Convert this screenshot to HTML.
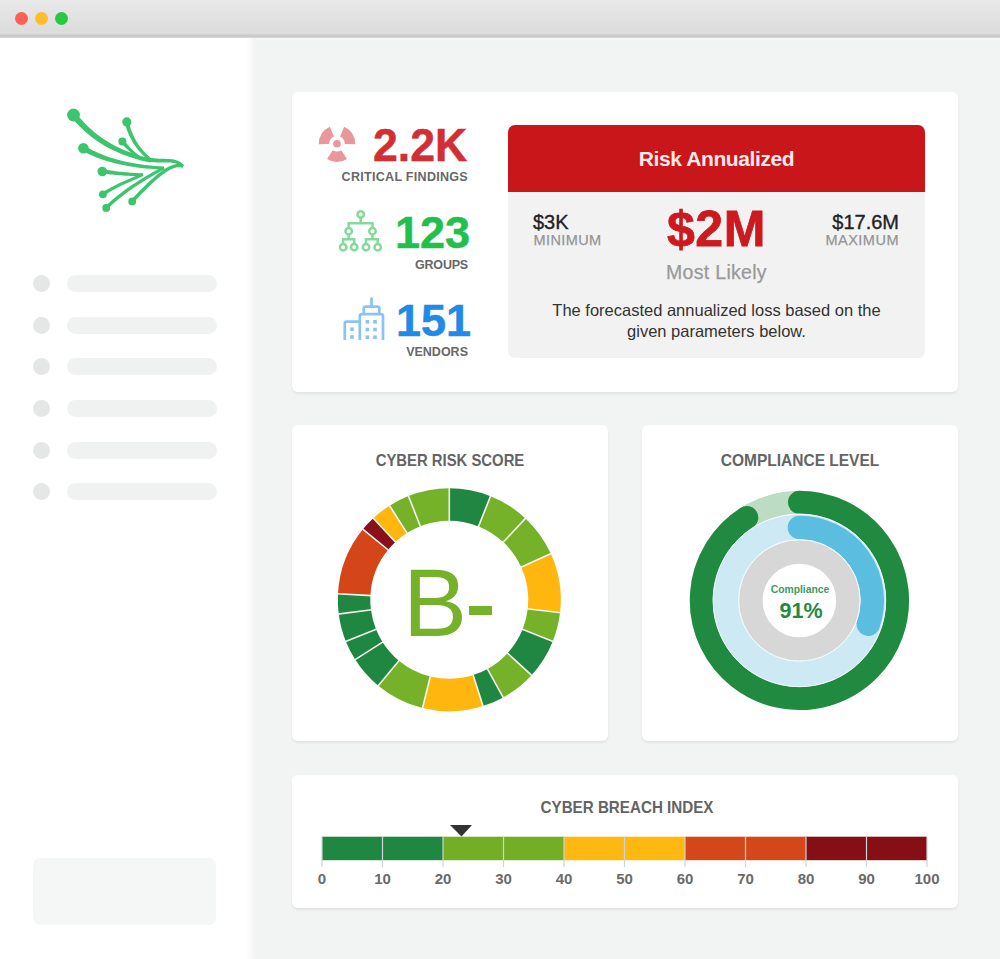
<!DOCTYPE html>
<html><head><meta charset="utf-8">
<style>
*{margin:0;padding:0;box-sizing:border-box}
html,body{width:1000px;height:959px;overflow:hidden;background:#f2f4f3;font-family:"Liberation Sans",sans-serif}
.abs{position:absolute}
.t{position:absolute;line-height:1;white-space:nowrap}
#titlebar{left:0;top:0;width:1000px;height:38px;background:linear-gradient(#e9e9e9 0px,#dcdcdc 31px,#e0e0e0 33px,#cbcbcb 35.5px,#c9c9c9 37px,#e2e2e2 38px)}
.dot{position:absolute;width:13px;height:13px;border-radius:50%;top:12px}
#sidebar{left:0;top:38px;width:256px;height:921px;background:linear-gradient(to right,#fff 246px,#f2f4f3 256px)}
.sd{position:absolute;left:33px;width:17px;height:17px;border-radius:50%;background:#e5e6e6}
.sb{position:absolute;left:67px;width:150px;height:17px;border-radius:9px;background:#f0f1f1}
.card{position:absolute;background:#fff;border-radius:6px;box-shadow:0 2px 2.5px rgba(0,0,0,0.065)}
.lbl{color:#676767;font-weight:700}
</style></head>
<body>
<div id="titlebar" class="abs">
  <div class="dot" style="left:15px;background:#fe5f57"></div>
  <div class="dot" style="left:35px;background:#febc2e"></div>
  <div class="dot" style="left:55px;background:#28c840"></div>
</div>
<div class="abs" style="left:250px;top:38px;width:750px;height:2px;background:#f6f7f6"></div>
<div id="sidebar" class="abs">

  <div class="sd" style="top:237px"></div><div class="sb" style="top:237px"></div>
  <div class="sd" style="top:279px"></div><div class="sb" style="top:279px"></div>
  <div class="sd" style="top:320px"></div><div class="sb" style="top:320px"></div>
  <div class="sd" style="top:362px"></div><div class="sb" style="top:362px"></div>
  <div class="sd" style="top:404px"></div><div class="sb" style="top:404px"></div>
  <div class="sd" style="top:445px"></div><div class="sb" style="top:445px"></div>
  <div class="abs" style="left:33px;top:820px;width:183px;height:67px;border-radius:7px;background:#f5f6f6"></div>
</div>

<!-- logo -->
<svg class="abs" style="left:60px;top:100px" width="135" height="120" viewBox="60 100 135 120"><g fill="#3cc46e">
<path d="M71.03,117.03 L72.94,119.28 L74.96,121.56 L77.06,123.84 L79.27,126.11 L81.57,128.37 L83.98,130.62 L86.50,132.85 L89.13,135.06 L91.88,137.23 L94.76,139.36 L97.76,141.45 L100.90,143.49 L104.17,145.49 L107.59,147.42 L111.15,149.29 L114.87,151.09 L118.74,152.82 L122.77,154.47 L126.97,156.04 L131.33,157.52 L135.87,158.90 L140.60,160.19 L145.50,161.38 L150.57,162.45 L151.43,158.55 L146.45,157.39 L141.68,156.13 L137.11,154.78 L132.73,153.34 L128.52,151.81 L124.49,150.20 L120.64,148.52 L116.95,146.76 L113.41,144.94 L110.04,143.06 L106.81,141.12 L103.73,139.13 L100.78,137.09 L97.97,135.02 L95.28,132.90 L92.72,130.76 L90.28,128.59 L87.94,126.39 L85.72,124.18 L83.59,121.95 L81.56,119.71 L79.62,117.47 L77.77,115.23 L75.97,112.97Z"/>
<path d="M149.74,161.78 L151.62,162.01 L153.49,162.18 L155.31,162.30 L157.07,162.38 L158.79,162.43 L160.46,162.45 L162.08,162.46 L163.64,162.46 L165.16,162.46 L166.62,162.46 L168.03,162.49 L169.39,162.53 L170.70,162.61 L171.95,162.73 L173.14,162.89 L174.29,163.10 L175.38,163.36 L176.42,163.70 L177.42,164.10 L178.37,164.57 L179.28,165.14 L180.16,165.80 L181.02,166.56 L181.88,167.50 L184.12,165.50 L183.19,164.44 L182.17,163.45 L181.09,162.59 L179.96,161.84 L178.79,161.20 L177.58,160.66 L176.33,160.21 L175.05,159.85 L173.73,159.56 L172.39,159.34 L171.01,159.17 L169.61,159.04 L168.18,158.95 L166.71,158.88 L165.22,158.83 L163.69,158.79 L162.13,158.75 L160.54,158.71 L158.92,158.64 L157.26,158.56 L155.57,158.44 L153.84,158.28 L152.09,158.08 L150.26,157.82Z"/>
<path d="M183.61,165.02 L182.35,164.49 L180.90,164.11 L179.38,163.92 L177.80,163.92 L176.16,164.10 L174.47,164.47 L172.72,165.00 L170.90,165.71 L169.02,166.58 L167.07,167.62 L165.04,168.83 L162.94,170.21 L160.75,171.76 L158.49,173.47 L156.14,175.36 L153.70,177.42 L151.17,179.65 L148.56,182.06 L145.85,184.64 L143.05,187.39 L140.15,190.33 L137.15,193.43 L134.06,196.72 L130.87,200.18 L133.53,202.62 L136.69,199.16 L139.74,195.89 L142.69,192.80 L145.55,189.89 L148.30,187.16 L150.96,184.61 L153.51,182.23 L155.97,180.04 L158.34,178.02 L160.61,176.18 L162.78,174.51 L164.86,173.01 L166.85,171.69 L168.74,170.55 L170.53,169.57 L172.22,168.77 L173.82,168.13 L175.32,167.66 L176.71,167.34 L178.01,167.18 L179.20,167.17 L180.31,167.29 L181.33,167.54 L182.39,167.98Z"/>
<path d="M82.05,150.54 L84.23,151.73 L86.51,152.92 L88.89,154.08 L91.36,155.23 L93.93,156.34 L96.59,157.43 L99.36,158.49 L102.22,159.52 L105.19,160.51 L108.27,161.46 L111.46,162.37 L114.76,163.24 L118.17,164.07 L121.70,164.84 L125.35,165.57 L129.12,166.25 L133.01,166.87 L137.03,167.43 L141.18,167.94 L145.46,168.38 L149.87,168.76 L154.42,169.08 L159.11,169.32 L163.93,169.50 L164.07,166.50 L159.28,166.23 L154.65,165.89 L150.17,165.48 L145.82,165.00 L141.61,164.47 L137.54,163.87 L133.61,163.22 L129.80,162.51 L126.12,161.75 L122.57,160.94 L119.15,160.08 L115.84,159.18 L112.66,158.24 L109.59,157.26 L106.64,156.24 L103.79,155.19 L101.06,154.11 L98.43,153.00 L95.91,151.86 L93.49,150.70 L91.17,149.52 L88.94,148.32 L86.81,147.10 L84.75,145.86Z"/>
<path d="M163.29,166.48 L160.88,167.77 L158.44,169.09 L155.96,170.46 L153.45,171.86 L150.92,173.30 L148.37,174.78 L145.81,176.29 L143.24,177.83 L140.67,179.41 L138.10,181.02 L135.54,182.67 L132.98,184.34 L130.44,186.05 L127.93,187.78 L125.43,189.55 L122.97,191.34 L120.54,193.16 L118.15,195.01 L115.81,196.88 L113.51,198.78 L111.27,200.71 L109.09,202.66 L106.97,204.63 L104.94,206.62 L107.46,209.18 L109.45,207.21 L111.50,205.27 L113.61,203.35 L115.78,201.45 L118.01,199.57 L120.30,197.71 L122.63,195.88 L125.00,194.07 L127.41,192.28 L129.85,190.52 L132.33,188.79 L134.82,187.08 L137.33,185.41 L139.85,183.76 L142.38,182.14 L144.92,180.56 L147.45,179.01 L149.98,177.49 L152.49,176.00 L154.99,174.55 L157.46,173.14 L159.91,171.76 L162.33,170.42 L164.71,169.12Z"/>
<path d="M102.05,173.59 L103.67,173.75 L105.32,173.91 L107.01,174.08 L108.74,174.25 L110.49,174.42 L112.26,174.59 L114.05,174.75 L115.86,174.92 L117.67,175.07 L119.49,175.23 L121.32,175.37 L123.13,175.51 L124.94,175.63 L126.74,175.75 L128.52,175.85 L130.28,175.94 L132.01,176.01 L133.71,176.07 L135.38,176.11 L137.01,176.13 L138.60,176.13 L140.13,176.11 L141.62,176.07 L143.04,176.00 L142.96,173.20 L141.57,173.21 L140.13,173.19 L138.63,173.16 L137.09,173.10 L135.49,173.02 L133.86,172.92 L132.19,172.81 L130.48,172.68 L128.75,172.53 L127.00,172.37 L125.23,172.20 L123.44,172.02 L121.65,171.83 L119.84,171.63 L118.04,171.42 L116.25,171.20 L114.46,170.98 L112.68,170.76 L110.92,170.53 L109.19,170.31 L107.48,170.08 L105.80,169.86 L104.15,169.63 L102.55,169.41Z"/>
<path d="M142.46,173.31 L140.82,173.97 L139.17,174.65 L137.49,175.33 L135.80,176.02 L134.09,176.72 L132.38,177.43 L130.65,178.15 L128.92,178.89 L127.18,179.63 L125.44,180.39 L123.70,181.17 L121.96,181.96 L120.22,182.76 L118.49,183.58 L116.77,184.42 L115.05,185.28 L113.35,186.16 L111.66,187.05 L109.99,187.97 L108.33,188.91 L106.70,189.87 L105.09,190.86 L103.50,191.86 L101.95,192.89 L103.85,195.71 L105.35,194.68 L106.88,193.69 L108.43,192.71 L110.00,191.76 L111.60,190.82 L113.22,189.90 L114.86,189.01 L116.52,188.13 L118.19,187.26 L119.87,186.41 L121.57,185.58 L123.27,184.77 L124.98,183.97 L126.69,183.18 L128.40,182.40 L130.11,181.64 L131.82,180.89 L133.53,180.15 L135.23,179.42 L136.91,178.70 L138.59,177.98 L140.26,177.28 L141.91,176.58 L143.54,175.89Z"/>
<path d="M124.75,122.36 L125.21,124.26 L125.72,126.17 L126.29,128.05 L126.91,129.91 L127.58,131.75 L128.31,133.56 L129.09,135.35 L129.93,137.12 L130.82,138.86 L131.77,140.59 L132.77,142.28 L133.83,143.95 L134.95,145.60 L136.12,147.23 L137.35,148.83 L138.64,150.41 L139.99,151.96 L141.39,153.49 L142.86,155.00 L144.38,156.48 L145.96,157.94 L147.61,159.38 L149.31,160.79 L151.06,162.17 L152.94,159.83 L151.25,158.44 L149.64,157.04 L148.09,155.62 L146.61,154.18 L145.18,152.73 L143.82,151.25 L142.51,149.76 L141.27,148.25 L140.08,146.72 L138.95,145.17 L137.88,143.61 L136.87,142.02 L135.91,140.42 L135.00,138.79 L134.16,137.15 L133.36,135.49 L132.62,133.80 L131.93,132.10 L131.29,130.38 L130.70,128.64 L130.17,126.88 L129.68,125.09 L129.24,123.29 L128.85,121.44Z"/>
<path d="M120.97,142.86 L121.70,143.64 L122.43,144.43 L123.16,145.22 L123.91,146.00 L124.66,146.77 L125.41,147.55 L126.18,148.32 L126.96,149.08 L127.75,149.84 L128.54,150.60 L129.35,151.35 L130.17,152.09 L131.01,152.84 L131.86,153.57 L132.72,154.30 L133.59,155.03 L134.48,155.75 L135.39,156.47 L136.31,157.18 L137.26,157.89 L138.22,158.59 L139.19,159.28 L140.19,159.97 L141.20,160.65 L142.80,158.35 L141.83,157.65 L140.89,156.95 L139.97,156.24 L139.06,155.53 L138.18,154.82 L137.31,154.10 L136.46,153.37 L135.62,152.64 L134.80,151.91 L134.00,151.17 L133.20,150.43 L132.43,149.68 L131.66,148.93 L130.90,148.17 L130.16,147.41 L129.43,146.65 L128.70,145.87 L127.99,145.10 L127.28,144.32 L126.58,143.53 L125.88,142.75 L125.19,141.95 L124.51,141.15 L123.83,140.34Z"/>
<circle cx="73.5" cy="115" r="6.4"/>
<circle cx="83.4" cy="148.2" r="5.3"/>
<circle cx="126.8" cy="121.9" r="4.6"/>
<circle cx="122.4" cy="141.6" r="4.0"/>
<circle cx="102.3" cy="171.5" r="4.8"/>
<circle cx="102.9" cy="194.3" r="3.9"/>
<circle cx="106.2" cy="207.9" r="3.9"/>
<circle cx="132.2" cy="201.4" r="3.9"/>
</g></svg>
<!-- TOP CARD -->
<div class="card" style="left:292px;top:92px;width:666px;height:300px"></div>
<!-- radiation icon -->
<svg class="abs" style="left:312px;top:120px" width="50" height="50" viewBox="312 120 50 50">
  <g fill="#e9979b">
    <circle cx="337" cy="143.7" r="3.8"/>
    <path d="M318.71,144.34 A18.3,18.3 0 0 1 329.85,126.85 L333.95,136.52 A7.8,7.8 0 0 0 329.2,143.97 Z M344.15,126.85 A18.3,18.3 0 0 1 355.29,144.34 L344.8,143.97 A7.8,7.8 0 0 0 340.05,136.52 Z M346.97,159.05 A18.3,18.3 0 0 1 327.03,159.05 L332.75,150.24 A7.8,7.8 0 0 0 341.25,150.24 Z"/>
  </g>
</svg>
<div class="t" style="right:533px;top:120.5px;font-size:47px;font-weight:700;color:#d12f34;-webkit-text-stroke:0.5px #d12f34;transform:scaleX(0.95);transform-origin:right">2.2K</div>
<div class="t lbl" style="right:532px;top:171.1px;font-size:12.5px;letter-spacing:0.3px">CRITICAL FINDINGS</div>
<!-- groups icon -->
<svg class="abs" style="left:337px;top:208px" width="48" height="46" viewBox="337 208 48 46" fill="none" stroke="#84d99c" stroke-width="2.5">
  <circle cx="360.7" cy="214.4" r="3.2"/>
  <path d="M360.7,217.6 V223.2 M347.5,223.2 H373.7 M348.7,222 V228 M372.5,222 V228"/>
  <circle cx="348.7" cy="231.2" r="3.2"/>
  <circle cx="372.5" cy="231.2" r="3.2"/>
  <path d="M348.7,234.4 V239.3 M342,239.3 H355.4 M364.8,239.3 H378.9 M372.5,234.4 V239.3 M343.2,238 V244 M354.2,238 V244 M366,238 V244 M377.7,238 V244"/>
  <circle cx="343.2" cy="247.2" r="3.2"/>
  <circle cx="354.2" cy="247.2" r="3.2"/>
  <circle cx="366" cy="247.2" r="3.2"/>
  <circle cx="377.7" cy="247.2" r="3.2"/>
</svg>
<div class="t" style="right:530px;top:210.2px;font-size:45px;font-weight:700;color:#22bf4e;-webkit-text-stroke:0.5px #22bf4e">123</div>
<div class="t lbl" style="right:532px;top:258.6px;font-size:12.5px;letter-spacing:-0.2px">GROUPS</div>
<!-- building icon -->
<svg class="abs" style="left:340px;top:295px" width="48" height="46" viewBox="340 295 48 46" fill="none" stroke="#8cc2f5" stroke-width="2.7">
  <path d="M344.8,340 V323.5 Q344.8,321.6 346.7,321.6 H359.8"/>
  <path d="M359.8,340 V316.3 Q359.8,314.2 362,314.2 H380.8 Q383,314.2 383,316.3 V340"/>
  <path d="M363.8,314.2 V308.4 Q363.8,306.7 365.5,306.7 H377.6 Q379.3,306.7 379.3,308.4 V314.2"/>
  <path d="M371.5,297.5 V306.7"/>
  <g fill="#8cc2f5" stroke="none">
    <rect x="350.2" y="327.4" width="3.6" height="3.6"/>
    <rect x="350.2" y="335.2" width="3.6" height="3.6"/>
    <rect x="365.6" y="320" width="3.6" height="3.6"/>
    <rect x="373.2" y="320" width="3.6" height="3.6"/>
    <rect x="365.6" y="327.7" width="3.6" height="3.6"/>
    <rect x="373.2" y="327.7" width="3.6" height="3.6"/>
    <rect x="365.6" y="335.4" width="3.6" height="3.6"/>
    <rect x="373.2" y="335.4" width="3.6" height="3.6"/>
  </g>
</svg>
<div class="t" style="right:529px;top:297.6px;font-size:45px;font-weight:700;color:#2189e6;-webkit-text-stroke:0.5px #2189e6">151</div>
<div class="t lbl" style="right:532px;top:346.3px;font-size:12.5px;letter-spacing:0px">VENDORS</div>

<!-- risk annualized panel -->
<div class="abs" style="left:508px;top:125px;width:417px;height:67px;background:#c9161b;border-radius:7px 7px 0 0"></div>
<div class="abs" style="left:508px;top:191.5px;width:417px;height:166.5px;background:#f2f2f2;border-radius:0 0 7px 7px"></div>
<div class="t" style="left:508px;width:417px;text-align:center;top:148px;font-size:21px;font-weight:700;letter-spacing:-0.4px;color:#fde9e9">Risk Annualized</div>
<div class="t" style="left:533px;top:211.9px;font-size:20px;color:#222;-webkit-text-stroke:0.35px #222">$3K</div>
<div class="t" style="left:533.5px;top:232.6px;font-size:14.5px;letter-spacing:0.4px;color:#959595;-webkit-text-stroke:0.25px #959595">MINIMUM</div>
<div class="t" style="left:508px;width:417px;text-align:center;top:204.2px;font-size:50px;font-weight:700;letter-spacing:0.6px;color:#cc1a1f;-webkit-text-stroke:0.8px #cc1a1f">$2M</div>
<div class="t" style="left:508px;width:417px;text-align:center;top:263px;font-size:19.5px;letter-spacing:0.3px;color:#999;-webkit-text-stroke:0.25px #999">Most Likely</div>
<div class="t" style="right:101px;top:211.7px;font-size:20px;color:#222;-webkit-text-stroke:0.35px #222">$17.6M</div>
<div class="t" style="right:101px;top:232.6px;font-size:14.5px;letter-spacing:0.5px;color:#959595;-webkit-text-stroke:0.25px #959595">MAXIMUM</div>
<div class="abs" style="left:508px;width:417px;text-align:center;top:299.5px;font-size:16.5px;line-height:21px;color:#333">The forecasted annualized loss based on the<br>given parameters below.</div>

<!-- CYBER RISK CARD -->
<div class="card" style="left:292px;top:425px;width:316px;height:316px"></div>
<div class="t lbl" style="left:292px;width:316px;text-align:center;top:452.3px;font-size:16.5px;color:#646464;transform:scaleX(0.9)">CYBER RISK SCORE</div>
<svg class="abs" style="left:292px;top:425px" width="316" height="316" viewBox="292 425 316 316">
<path fill="#1f8742" d="M449.3,488.3 A111.5,111.5 0 0 1 490.53,496.2 L478.51,526.4 A79,79 0 0 0 449.3,520.8 Z"/>
<path fill="#76b12a" d="M490.53,496.2 A111.5,111.5 0 0 1 525.49,518.39 L503.28,542.12 A79,79 0 0 0 478.51,526.4 Z"/>
<path fill="#76b12a" d="M525.49,518.39 A111.5,111.5 0 0 1 550.76,553.56 L521.19,567.04 A79,79 0 0 0 503.28,542.12 Z"/>
<path fill="#ffb60f" d="M550.76,553.56 A111.5,111.5 0 0 1 560.06,612.62 L527.78,608.88 A79,79 0 0 0 521.19,567.04 Z"/>
<path fill="#76b12a" d="M560.06,612.62 A111.5,111.5 0 0 1 552.75,641.39 L522.6,629.27 A79,79 0 0 0 527.78,608.88 Z"/>
<path fill="#1f8742" d="M552.75,641.39 A111.5,111.5 0 0 1 531.51,675.13 L507.54,653.17 A79,79 0 0 0 522.6,629.27 Z"/>
<path fill="#76b12a" d="M531.51,675.13 A111.5,111.5 0 0 1 503.19,697.41 L487.48,668.96 A79,79 0 0 0 507.54,653.17 Z"/>
<path fill="#1f8742" d="M503.19,697.41 A111.5,111.5 0 0 1 483.01,706.08 L473.19,675.1 A79,79 0 0 0 487.48,668.96 Z"/>
<path fill="#ffb60f" d="M483.01,706.08 A111.5,111.5 0 0 1 422.51,708.03 L430.32,676.49 A79,79 0 0 0 473.19,675.1 Z"/>
<path fill="#76b12a" d="M422.51,708.03 A111.5,111.5 0 0 1 378.23,685.71 L398.94,660.67 A79,79 0 0 0 430.32,676.49 Z"/>
<path fill="#1f8742" d="M378.23,685.71 A111.5,111.5 0 0 1 355.16,659.54 L382.6,642.13 A79,79 0 0 0 398.94,660.67 Z"/>
<path fill="#1f8742" d="M355.16,659.54 A111.5,111.5 0 0 1 345.85,641.39 L376.0,629.27 A79,79 0 0 0 382.6,642.13 Z"/>
<path fill="#1f8742" d="M345.85,641.39 A111.5,111.5 0 0 1 338.7,613.97 L370.94,609.84 A79,79 0 0 0 376.0,629.27 Z"/>
<path fill="#1f8742" d="M338.7,613.97 A111.5,111.5 0 0 1 337.96,593.77 L370.42,595.53 A79,79 0 0 0 370.94,609.84 Z"/>
<path fill="#d4461a" d="M337.96,593.77 A111.5,111.5 0 0 1 362.89,529.33 L388.08,549.87 A79,79 0 0 0 370.42,595.53 Z"/>
<path fill="#87101a" d="M362.89,529.33 A111.5,111.5 0 0 1 373.26,518.25 L395.42,542.02 A79,79 0 0 0 388.08,549.87 Z"/>
<path fill="#ffb60f" d="M373.26,518.25 A111.5,111.5 0 0 1 389.56,505.66 L406.97,533.1 A79,79 0 0 0 395.42,542.02 Z"/>
<path fill="#76b12a" d="M389.56,505.66 A111.5,111.5 0 0 1 408.44,496.06 L420.35,526.3 A79,79 0 0 0 406.97,533.1 Z"/>
<path fill="#76b12a" d="M408.44,496.06 A111.5,111.5 0 0 1 449.3,488.3 L449.3,520.8 A79,79 0 0 0 420.35,526.3 Z"/>
<path stroke="#f3f7ec" stroke-width="1.6" d="M449.3,521.8 L449.3,487.3 M478.14,527.33 L490.9,495.27 M502.6,542.85 L526.17,517.66 M520.28,567.45 L551.67,553.15 M526.78,608.77 L561.05,612.73 M521.67,628.89 L553.68,641.76 M506.81,652.5 L532.24,675.8 M487.0,668.09 L503.67,698.29 M472.88,674.15 L483.32,707.03 M430.56,675.52 L422.27,709.01 M399.58,659.9 L377.59,686.48 M383.44,641.59 L354.31,660.08 M376.93,628.89 L344.92,641.76 M371.93,609.71 L337.71,614.09 M371.41,595.58 L336.96,593.72 M388.85,550.5 L362.12,528.7 M396.1,542.75 L372.58,517.52 M407.51,533.94 L389.02,504.81 M420.71,527.23 L408.07,495.13"/>

</svg>
<div class="t" style="left:403px;top:555.2px;font-size:96px;color:#76b12a">B</div>
<div class="abs" style="left:469px;top:606px;width:23px;height:8.8px;background:#76b12a"></div>
<!-- COMPLIANCE CARD -->
<div class="card" style="left:642px;top:425px;width:316px;height:316px"></div>
<div class="t lbl" style="left:642px;width:316px;text-align:center;top:452.3px;font-size:16.5px;color:#646464;transform:scaleX(0.94)">COMPLIANCE LEVEL</div>
<svg class="abs" style="left:642px;top:425px" width="316" height="316" viewBox="642 425 316 316" fill="none">
  <circle cx="799.4" cy="600.4" r="98.1" stroke="#bddcc4" stroke-width="23"/>
  <path d="M799.4,502.3 A98.1,98.1 0 1 1 746.84,517.57" stroke="#1f8a40" stroke-width="23" stroke-linecap="round"/>
  <circle cx="799.4" cy="600.4" r="73.5" stroke="#cde9f3" stroke-width="25"/>
  <path d="M799.4,527.5 A72.9,72.9 0 0 1 868.33,624.13" stroke="#5bbde0" stroke-width="23.5" stroke-linecap="round"/>
  <circle cx="799.4" cy="600.4" r="48.5" stroke="#d7d7d7" stroke-width="23.5"/>
  <circle cx="799.4" cy="600.4" r="86.3" stroke="#eef8fb" stroke-width="1"/>
  <circle cx="799.4" cy="600.4" r="60.8" stroke="#eef8fb" stroke-width="1"/>
</svg>
<div class="t" style="left:642px;width:316px;text-align:center;top:584px;font-size:11.5px;font-weight:700;color:#3f9a63;transform:scaleX(0.9)">Compliance</div>
<div class="t" style="left:642px;width:316px;text-align:center;top:600.5px;font-size:21.5px;font-weight:700;color:#1f8a40;text-indent:2px">91%</div>
<!-- BREACH CARD -->
<div class="card" style="left:292px;top:775px;width:666px;height:133px"></div>
<div class="t lbl" style="left:294px;width:666px;text-align:center;top:799px;font-size:16.5px;color:#646464;transform:scaleX(0.92)">CYBER BREACH INDEX</div>
<svg class="abs" style="left:292px;top:775px" width="666" height="133" viewBox="292 775 666 133">
  <rect x="322" y="836.7" width="121" height="23.5" fill="#1f8742"/>
  <rect x="443" y="836.7" width="121" height="23.5" fill="#74ae25"/>
  <rect x="564" y="836.7" width="121" height="23.5" fill="#ffb80f"/>
  <rect x="685" y="836.7" width="121" height="23.5" fill="#d4471a"/>
  <rect x="806" y="836.7" width="121" height="23.5" fill="#860f16"/>
  <g stroke="#cfd2d8" stroke-width="1.2">
  <path d="M322.0,836.7 V867"/>
  <path d="M382.5,836.7 V867"/>
  <path d="M443.0,836.7 V867"/>
  <path d="M503.5,836.7 V867"/>
  <path d="M564.0,836.7 V867"/>
  <path d="M624.5,836.7 V867"/>
  <path d="M685.0,836.7 V867"/>
  <path d="M745.5,836.7 V867"/>
  <path d="M806.0,836.7 V867"/>
  <path d="M866.5,836.7 V867"/>
  <path d="M927.0,836.7 V867"/>
  </g>
  <path d="M450,825 H472 L461.5,836.5 Z" fill="#333"/>
</svg>
<div class="t lbl" style="left:292.0px;width:60px;text-align:center;top:870.8px;font-size:15px;color:#6a6a6a">0</div>
<div class="t lbl" style="left:352.5px;width:60px;text-align:center;top:870.8px;font-size:15px;color:#6a6a6a">10</div>
<div class="t lbl" style="left:413.0px;width:60px;text-align:center;top:870.8px;font-size:15px;color:#6a6a6a">20</div>
<div class="t lbl" style="left:473.5px;width:60px;text-align:center;top:870.8px;font-size:15px;color:#6a6a6a">30</div>
<div class="t lbl" style="left:534.0px;width:60px;text-align:center;top:870.8px;font-size:15px;color:#6a6a6a">40</div>
<div class="t lbl" style="left:594.5px;width:60px;text-align:center;top:870.8px;font-size:15px;color:#6a6a6a">50</div>
<div class="t lbl" style="left:655.0px;width:60px;text-align:center;top:870.8px;font-size:15px;color:#6a6a6a">60</div>
<div class="t lbl" style="left:715.5px;width:60px;text-align:center;top:870.8px;font-size:15px;color:#6a6a6a">70</div>
<div class="t lbl" style="left:776.0px;width:60px;text-align:center;top:870.8px;font-size:15px;color:#6a6a6a">80</div>
<div class="t lbl" style="left:836.5px;width:60px;text-align:center;top:870.8px;font-size:15px;color:#6a6a6a">90</div>
<div class="t lbl" style="left:897.0px;width:60px;text-align:center;top:870.8px;font-size:15px;color:#6a6a6a">100</div>

</body></html>
